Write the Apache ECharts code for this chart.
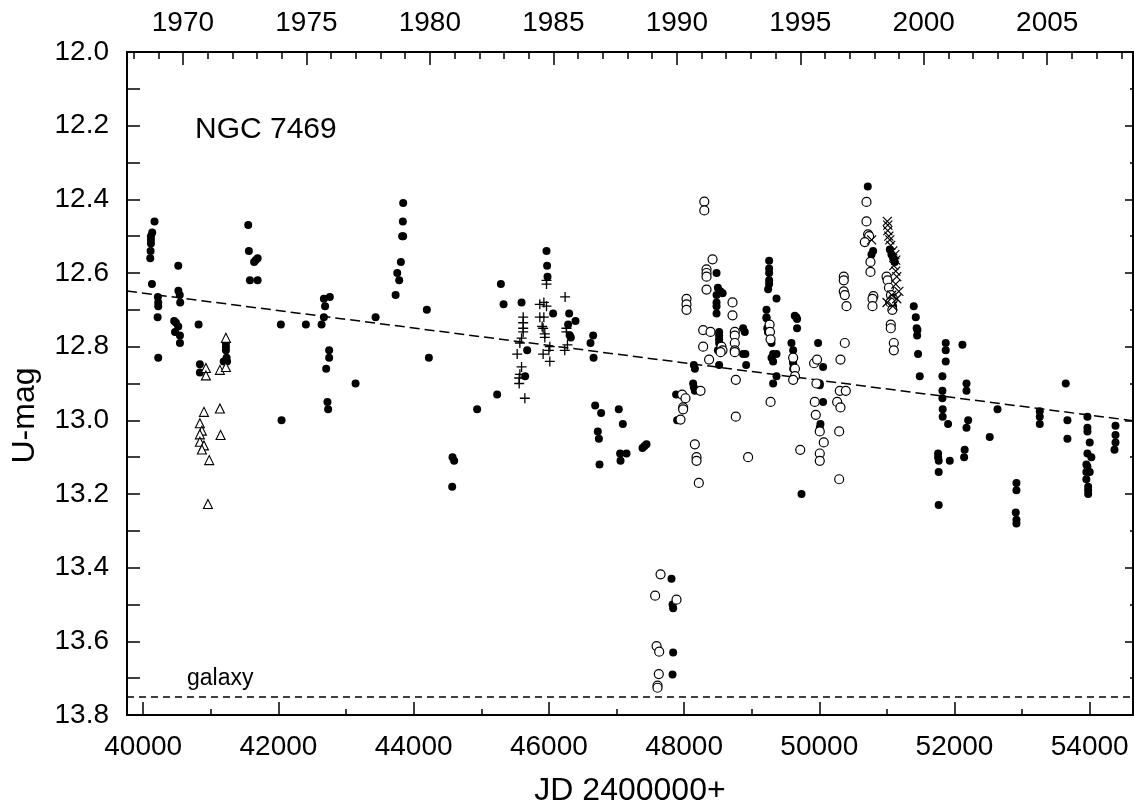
<!DOCTYPE html>
<html><head><meta charset="utf-8">
<script src="https://cdn.jsdelivr.net/npm/echarts@6/dist/echarts.min.js"></script>
<style>html,body{margin:0;padding:0;background:#fff}#c{width:1134px;height:812px}</style>
</head><body><div id="c"></div>
<script>
// ---- axis values ----
const xRange = [39760, 54640];
const xMajorTicks = [40000, 42000, 44000, 46000, 48000, 50000, 52000, 54000];
const xMinorTicks = [41000, 43000, 45000, 47000, 49000, 51000, 53000];
const yearLabels = [1970, 1975, 1980, 1985, 1990, 1995, 2000, 2005];
const yearTicks = [1968,1969,1970,1971,1972,1973,1974,1975,1976,1977,1978,1979,1980,1981,1982,1983,1984,1985,1986,1987,1988,1989,1990,1991,1992,1993,1994,1995,1996,1997,1998,1999,2000,2001,2002,2003,2004,2005,2006,2007,2008];
const yRange = [12.0, 13.8];
const galaxyMag = 13.75;
const trendLine = [[39760, 12.649], [54640, 13.001]];

// ---- data: [JD-2400000, U-mag] ----
const filled = [
[40167,12.46],[40133,12.49],[40114,12.50],[40114,12.51],[40114,12.52],[40109,12.54],[40104,12.56],[40129,12.63],[40217,12.665],[40222,12.68],[40222,12.69],[40213,12.72],[40222,12.83],
[40518,12.58],[40520,12.648],[40540,12.66],[40547,12.68],[40458,12.73],[40484,12.735],[40518,12.745],[40470,12.76],[40543,12.77],[40543,12.79],
[40819,12.74],[40838,12.848],[40838,12.87],
[41223,12.79],[41223,12.80],[41223,12.81],[41233,12.83],[41190,12.84],[41240,12.84],
[41553,12.47],[41563,12.54],[41640,12.57],[41665,12.565],[41692,12.56],[41578,12.62],[41692,12.62],
[42036,12.74],[42046,13.0],[42406,12.74],[42638,12.74],[42672,12.72],[42672,12.67],[42690,12.69],[42760,12.665],[42750,12.81],[42750,12.83],[42706,12.86],[42725,12.95],[42735,12.97],
[43141,12.90],[43437,12.72],[43733,12.66],[43757,12.60],[43786,12.62],[43811,12.57],[43830,12.50],[43845,12.50],[43840,12.46],[43845,12.41],
[44195,12.70],[44225,12.83],[44575,13.10],[44599,13.11],[44570,13.18],
[44939,12.97],[45235,12.93],[45290,12.63],[45330,12.685],[45596,12.68],[45679,12.81],[45649,12.88],
[45965,12.54],[45974,12.58],[45980,12.61],[46063,12.71],[46300,12.71],[46394,12.73],[46285,12.74],[46310,12.77],[46325,12.775],
[46655,12.77],[46616,12.79],[46661,12.83],[46685,12.96],[46773,12.98],[46724,13.03],[46740,13.05],[46749,13.12],
[47034,12.97],[47094,13.01],[47054,13.09],[47148,13.09],[47060,13.11],[47385,13.075],[47415,13.07],[47444,13.065],
[47882,12.93],[47897,13.0],
[47814,13.43],[47829,13.50],[47838,13.51],[47838,13.63],[47829,13.69],
[48144,12.85],[48160,12.86],[48134,12.90],[48144,12.91],[48159,12.92],
[48480,12.60],[48500,12.64],[48540,12.65],[48570,12.655],[48480,12.66],[48480,12.68],[48480,12.69],[48480,12.71],
[48518,12.76],[48518,12.77],[48518,12.78],[48518,12.79],[48500,12.81],[48518,12.85],
[48873,12.75],[48898,12.76],[48873,12.82],[48907,12.82],[48918,12.85],
[49258,12.567],[49258,12.588],[49258,12.60],[49258,12.62],[49258,12.63],[49243,12.644],[49367,12.669],[49219,12.70],[49219,12.72],[49219,12.723],[49230,12.75],[49240,12.76],[49293,12.79],[49317,12.82],[49367,12.82],[49293,12.83],[49317,12.84],[49367,12.88],[49317,12.90],
[49637,12.716],[49660,12.72],[49671,12.725],[49671,12.75],[49588,12.79],[49613,12.81],[49613,12.84],[49613,12.845],[49613,12.86],[49637,12.88],
[49982,12.79],[50056,12.855],[50007,12.90],[50007,12.905],[50056,12.95],[50017,13.01],[50007,13.02],[49737,13.20],
[50717,12.365],[50796,12.54],[50772,12.55],
[51043,12.536],[51067,12.55],[51092,12.56],[51117,12.57],[51067,12.68],[51091,12.69],
[51397,12.69],[51427,12.72],[51440,12.75],[51452,12.755],[51447,12.77],[51461,12.82],[51486,12.88],
[51870,12.79],[51870,12.81],[51870,12.84],[51821,12.88],[51821,12.92],[51821,12.94],[51825,12.97],[51825,12.99],[51905,13.01],[51757,13.09],[51757,13.10],[51766,13.11],[51930,13.11],[51766,13.14],[51766,13.23],
[52117,12.795],[52177,12.90],[52177,12.92],[52202,13.0],[52177,13.02],[52150,13.08],[52142,13.10],
[52521,13.045],[52636,12.97],[52916,13.17],[52916,13.19],[52906,13.25],[52916,13.27],[52916,13.28],
[53261,12.975],[53261,12.99],[53261,13.01],[53645,12.90],[53670,13.0],[53670,13.05],
[53966,12.99],[53966,13.02],[53966,13.03],[54000,13.06],[53966,13.09],[54024,13.10],[53950,13.12],[53966,13.125],[54000,13.14],[53950,13.14],[53950,13.16],[53977,13.18],[53977,13.19],[53977,13.20],
[54381,13.015],[54381,13.04],[54381,13.06],[54366,13.08]
];
const open = [
[47652,13.418],[47572,13.476],[47888,13.487],[47593,13.613],[47632,13.628],[47626,13.689],[47607,13.72],[47607,13.726],
[48299,12.406],[48299,12.43],[48421,12.563],[48332,12.59],[48332,12.60],[48332,12.61],[48332,12.645],[48036,12.67],[48036,12.685],[48036,12.70],[48716,12.68],[48716,12.715],[48282,12.755],[48391,12.76],[48282,12.80],[48370,12.835],[48553,12.80],[48568,12.81],[48540,12.815],[48750,12.76],[48750,12.77],[48750,12.79],[48750,12.81],[48750,12.815],[48765,12.89],[48765,12.99],[48947,13.10],[48243,12.92],[47971,12.93],[48021,12.94],[47986,12.965],[47986,12.97],[47947,12.998],[48159,13.065],[48184,13.10],[48184,13.11],[48218,13.17],
[49265,12.74],[49270,12.76],[49279,12.78],[49279,12.95],[49613,12.83],[49640,12.86],[49640,12.88],[49613,12.89],[49718,13.08],[49923,12.845],[49967,12.835],[49958,12.90],[49933,12.95],[49948,12.985],[50007,13.03],[50066,13.06],[50007,13.09],[50007,13.11],
[50264,12.95],[50313,12.965],[50303,12.92],[50392,12.92],[50294,13.03],[50294,13.16],[50313,12.835],[50377,12.79],[50362,12.61],[50362,12.62],[50362,12.65],[50377,12.66],[50402,12.69],
[50698,12.407],[50698,12.46],[50722,12.495],[50737,12.50],[50673,12.516],[50757,12.57],[50757,12.597],[50800,12.663],[50787,12.67],[50787,12.69],
[50995,12.61],[51010,12.62],[51030,12.64],[51060,12.66],[51091,12.67],[51050,12.68],[51080,12.70],[51057,12.74],[51057,12.75],[51102,12.79],[51102,12.81]
];
const triangles = [
[40927,12.858],[40927,12.878],[40898,12.977],[40838,13.008],[40868,13.028],[40838,13.038],[40838,13.058],[40898,13.068],[40868,13.079],[40976,13.108],[40957,13.227],[41134,12.863],[41134,12.968],[41144,13.04],[41223,12.776],[41223,12.855]
];
const plus = [
[45620,12.72],[45620,12.735],[45620,12.75],[45620,12.76],[45596,12.777],[45571,12.79],[45531,12.82],[45596,12.855],[45571,12.875],[45561,12.885],[45561,12.90],[45645,12.94],
[45965,12.62],[45965,12.63],[45866,12.685],[45926,12.68],[45965,12.69],[45866,12.72],[45926,12.72],[45900,12.745],[45915,12.75],[45940,12.765],[45940,12.775],[46014,12.80],[46000,12.81],[45915,12.82],[46014,12.84],
[46240,12.665],[46260,12.75],[46260,12.76],[46275,12.795],[46235,12.81]
];
const crosses = [
[51006,12.46],[51013,12.47],[51013,12.485],[51028,12.50],[51043,12.51],[51057,12.525],[51087,12.54],[51117,12.55],[51131,12.565],[51102,12.58],[51131,12.595],[51146,12.61],[51131,12.63],[51176,12.65],[51072,12.66],[51146,12.67],[51002,12.68],[51087,12.69],[50774,12.51]
];

// ---- helpers ----
const FONT = "'Liberation Sans', Arial, Helvetica, sans-serif";
const toJD = y => Date.UTC(y, 0, 1) / 86400000 + 2440587.5 - 2400000;
const yearOf = jd => Math.round(1970 + (jd - toJD(1970)) / 365.25);
const yearLabelJD = yearLabels.map(toJD);
const yearTickJD = yearTicks.map(toJD);
const black = '#000';

function xAx(opts) {
  return Object.assign({
    type: 'value', min: xRange[0], max: xRange[1], gridIndex: 0,
    splitLine: { show: false },
    axisLine: { show: false },
    axisLabel: { show: false },
    axisTick: { show: false }
  }, opts);
}

const chart = echarts.init(document.getElementById('c'), null, { renderer: 'canvas' });
chart.setOption({
  animation: false,
  backgroundColor: '#fff',
  grid: { left: 127, right: 1, top: 52, bottom: 94, containLabel: false },
  xAxis: [
    xAx({ position: 'bottom',
      axisLine: { show: true, onZero: false, lineStyle: { color: black, width: 2 } },
      axisTick: { show: true, inside: true, length: 13, customValues: xMajorTicks, lineStyle: { color: black, width: 1.5 } },
      axisLabel: { show: true, customValues: xMajorTicks, margin: 18, fontSize: 28, fontFamily: FONT, color: black,
        formatter: v => String(Math.round(v)) },
      name: 'JD 2400000+', nameLocation: 'middle', nameGap: 60,
      nameTextStyle: { fontSize: 32, fontFamily: FONT, color: black } }),
    xAx({ position: 'bottom',
      axisTick: { show: true, inside: true, length: 6, customValues: xMinorTicks, lineStyle: { color: black, width: 1.5 } } }),
    xAx({ position: 'top',
      axisLine: { show: true, onZero: false, lineStyle: { color: black, width: 2 } },
      axisTick: { show: true, inside: true, length: 13, customValues: yearLabelJD, lineStyle: { color: black, width: 1.5 } },
      axisLabel: { show: true, customValues: yearLabelJD, margin: 15, fontSize: 28, fontFamily: FONT, color: black,
        formatter: v => String(yearOf(v)) } }),
    xAx({ position: 'top',
      axisTick: { show: true, inside: true, length: 7, customValues: yearTickJD, lineStyle: { color: black, width: 1.5 } } })
  ],
  yAxis: [
    { type: 'value', position: 'left', inverse: true, min: yRange[0], max: yRange[1], interval: 0.2,
      splitLine: { show: false },
      axisLine: { show: true, onZero: false, lineStyle: { color: black, width: 2 } },
      axisTick: { show: true, inside: true, length: 13, lineStyle: { color: black, width: 1.5 } },
      minorTick: { show: true, splitNumber: 2, length: 13, lineStyle: { color: black, width: 1.5 } },
      axisLabel: { margin: 18, fontSize: 28, fontFamily: FONT, color: black, formatter: v => v.toFixed(1) },
      name: 'U-mag', nameLocation: 'middle', nameGap: 86,
      nameTextStyle: { fontSize: 32, fontFamily: FONT, color: black, padding: [0, 64, 0, 0] } },
    { type: 'value', position: 'right', inverse: true, min: yRange[0], max: yRange[1], interval: 0.2,
      splitLine: { show: false },
      axisLine: { show: true, onZero: false, lineStyle: { color: black, width: 2 } },
      axisTick: { show: true, inside: true, length: 8, lineStyle: { color: black, width: 1.5 } },
      minorTick: { show: true, splitNumber: 2, length: 3, lineStyle: { color: black, width: 1.5 } },
      axisLabel: { show: false } }
  ],
  graphic: [
    { type: 'text', left: 195, top: 115, silent: true,
      style: { text: 'NGC 7469', fontSize: 30, fontFamily: FONT, fill: black } },
    { type: 'text', left: 187, top: 667, silent: true,
      style: { text: 'galaxy', fontSize: 23, fontFamily: FONT, fill: black } }
  ],
  series: [
    { type: 'line', name: 'trend', data: trendLine, symbol: 'none', silent: true, z: 1,
      lineStyle: { color: black, width: 1.5, type: [10, 5] },
      markLine: { silent: true, symbol: 'none', label: { show: false },
        lineStyle: { color: black, width: 1.5, type: [7, 5] },
        data: [{ yAxis: galaxyMag }] } },
    { type: 'scatter', name: 'filled', data: filled, symbol: 'circle', symbolSize: 8, z: 3,
      itemStyle: { color: black, opacity: 1 } },
    { type: 'scatter', name: 'open', data: open, symbol: 'circle', symbolSize: 9, z: 4,
      itemStyle: { color: '#fff', borderColor: black, borderWidth: 1.2, opacity: 1 } },
    { type: 'scatter', name: 'triangles', data: triangles, symbol: 'triangle', symbolSize: 9, z: 4,
      itemStyle: { color: '#fff', borderColor: black, borderWidth: 1.1, opacity: 1 } },
    { type: 'scatter', name: 'plus', data: plus, symbol: 'path://M5,0L5,10M0,5L10,5', symbolSize: 10, z: 4,
      itemStyle: { color: 'none', borderColor: black, borderWidth: 1.3, opacity: 1 } },
    { type: 'scatter', name: 'cross', data: crosses, symbol: 'path://M0,0L10,10M10,0L0,10', symbolSize: 9, z: 4,
      itemStyle: { color: 'none', borderColor: black, borderWidth: 1.2, opacity: 1 } }
  ]
});
</script>
</body></html>
